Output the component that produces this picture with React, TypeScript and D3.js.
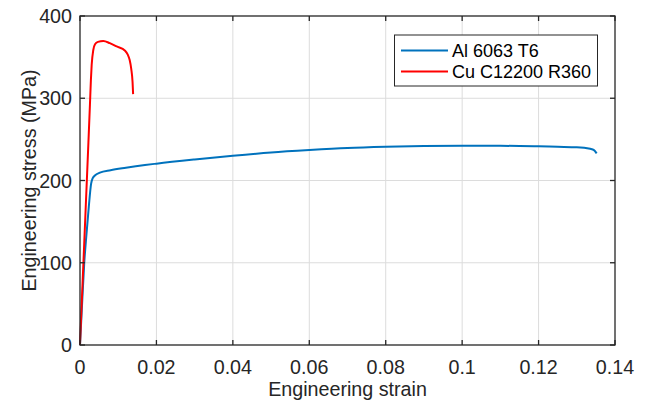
import React from "react";
import * as d3 from "d3";

const alStrain = [0, 0.0006, 0.0011, 0.0017, 0.0023, 0.0029, 0.0033, 0.0039, 0.0052, 0.008, 0.012, 0.017, 0.02, 0.03, 0.04, 0.05, 0.06, 0.07, 0.08, 0.09, 0.1, 0.11, 0.12, 0.125, 0.13, 0.1335, 0.1345, 0.1352];
const alStress = [0, 55, 99, 135, 168, 196, 202.5, 206, 209.5, 212.5, 215.5, 218.8, 220.5, 225.5, 230, 234, 237, 239.5, 241, 242, 242.3, 242.2, 241.5, 241, 240.5, 238.5, 237, 233];

const cuStrain = [0, 0.0011, 0.0022, 0.0026, 0.00285, 0.00306, 0.00348, 0.00393, 0.0047, 0.0061, 0.0078, 0.0096, 0.0118, 0.0125, 0.013, 0.0134, 0.01375, 0.0139];
const cuStress = [0, 123, 246, 292, 322, 341, 358.7, 365.6, 368.5, 369.6, 367, 363, 357.8, 353, 346.5, 336, 320, 305];

const xTicks = [0, 0.02, 0.04, 0.06, 0.08, 0.1, 0.12, 0.14];
const xTickLabels = ["0", "0.02", "0.04", "0.06", "0.08", "0.1", "0.12", "0.14"];
const yTicks = [0, 100, 200, 300, 400];
const yTickLabels = ["0", "100", "200", "300", "400"];

const seriesNames = ["Al 6063 T6", "Cu C12200 R360"];
const seriesColors = ["#0072BD", "#FF0000"];

export default function App() {
  const W = 649, H = 401;
  const L = 80, R = 615, T = 16, B = 345;
  const x = d3.scaleLinear().domain([0, 0.14]).range([L, R]);
  const y = d3.scaleLinear().domain([0, 400]).range([B, T]);
  const line = d3
    .line<[number, number]>()
    .x((d) => x(d[0]))
    .y((d) => y(d[1]))
    .curve(d3.curveMonotoneX);
  const alPts = alStrain.map((s, i) => [s, alStress[i]] as [number, number]);
  const cuPts = cuStrain.map((s, i) => [s, cuStress[i]] as [number, number]);
  const font = "'Liberation Sans', Arial, Helvetica, sans-serif";
  const axisColor = "#262626";
  const tl = 5;
  const fs = 19.7;

  return (
    <svg width={W} height={H} style={{ position: "absolute", left: 0, top: 0, background: "#fff" }} fontFamily={font}>
      <rect x={0} y={0} width={W} height={H} fill="#fff" />
      {/* grid */}
      {xTicks.slice(1, -1).map((t) => (
        <line key={"gx" + t} x1={x(t)} x2={x(t)} y1={T} y2={B} stroke="#dcdcdc" strokeWidth={1} />
      ))}
      {yTicks.slice(1, -1).map((t) => (
        <line key={"gy" + t} x1={L} x2={R} y1={y(t)} y2={y(t)} stroke="#dcdcdc" strokeWidth={1} />
      ))}
      {/* curves */}
      <path d={line(alPts) || ""} fill="none" stroke={seriesColors[0]} strokeWidth={2} strokeLinejoin="round" />
      <path d={line(cuPts) || ""} fill="none" stroke={seriesColors[1]} strokeWidth={2} strokeLinejoin="round" />
      {/* box */}
      <rect x={L} y={T} width={R - L} height={B - T} fill="none" stroke={axisColor} strokeWidth={1.3} />
      {/* ticks */}
      {xTicks.map((t) => (
        <g key={"tx" + t}>
          <line x1={x(t)} x2={x(t)} y1={B} y2={B - tl} stroke={axisColor} strokeWidth={1.3} />
          <line x1={x(t)} x2={x(t)} y1={T} y2={T + tl} stroke={axisColor} strokeWidth={1.3} />
        </g>
      ))}
      {yTicks.map((t) => (
        <g key={"ty" + t}>
          <line x1={L} x2={L + tl} y1={y(t)} y2={y(t)} stroke={axisColor} strokeWidth={1.3} />
          <line x1={R} x2={R - tl} y1={y(t)} y2={y(t)} stroke={axisColor} strokeWidth={1.3} />
        </g>
      ))}
      {/* tick labels */}
      {xTicks.map((t, i) => (
        <text key={"lx" + t} x={x(t)} y={374} textAnchor="middle" fontSize={fs} fill="#262626">
          {xTickLabels[i]}
        </text>
      ))}
      {yTicks.map((t, i) => (
        <text key={"ly" + t} x={72} y={y(t) + 7} textAnchor="end" fontSize={fs} fill="#262626">
          {yTickLabels[i]}
        </text>
      ))}
      {/* axis labels */}
      <text x={(L + R) / 2} y={396} textAnchor="middle" fontSize={fs} fill="#262626">
        Engineering strain
      </text>
      <text transform={`translate(36,${(T + B) / 2}) rotate(-90)`} textAnchor="middle" fontSize={fs} fill="#262626">
        Engineering stress (MPa)
      </text>
      {/* legend */}
      <rect x={394.5} y={35} width={203} height={51} fill="#fff" stroke={axisColor} strokeWidth={1} />
      {seriesNames.map((n, i) => (
        <g key={n}>
          <line x1={401} x2={448} y1={50.5 + i * 21} y2={50.5 + i * 21} stroke={seriesColors[i]} strokeWidth={2} />
          <text x={452} y={50.5 + i * 21 + 6.5} fontSize={18} fill="#000">
            {n}
          </text>
        </g>
      ))}
    </svg>
  );
}
